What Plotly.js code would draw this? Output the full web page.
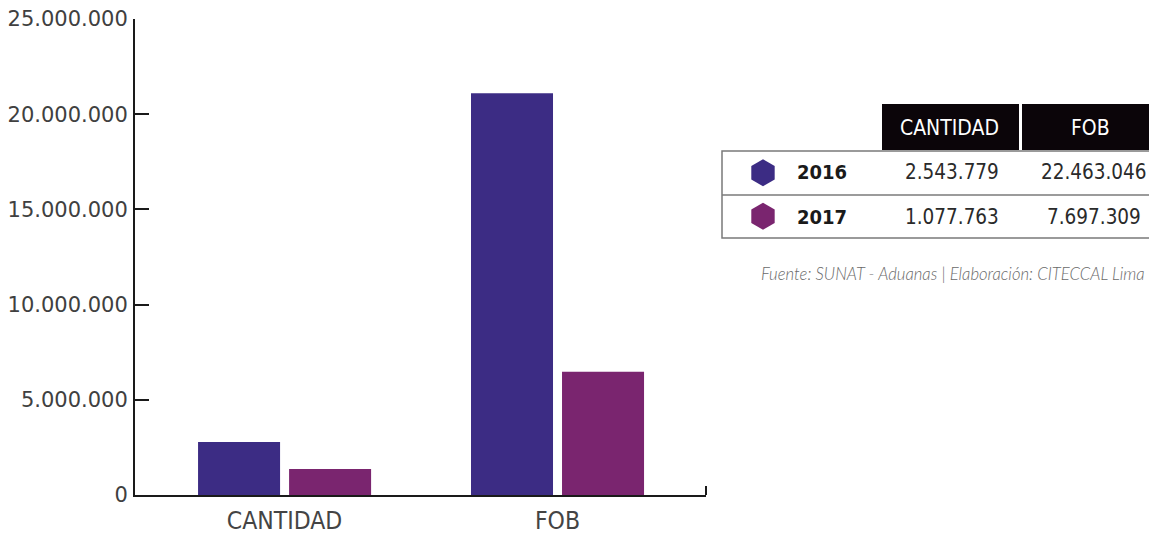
<!DOCTYPE html>
<html>
<head>
<meta charset="utf-8">
<script src="https://cdn.plot.ly/plotly-3.0.1.min.js"></script>
<style>html,body{margin:0;padding:0;background:#fff;}#chart{width:1149px;height:535px;}</style>
</head>
<body>
<div id="chart"></div>
<script>
// ---- data ----
const categories = ['CANTIDAD', 'FOB'];
const years = ['2016', '2017'];
const values2016 = [2790000, 21100000];
const values2017 = [1370000, 6470000];
const tableHeader = ['CANTIDAD', 'FOB'];
const tableCantidad = ['2.543.779', '1.077.763'];
const tableFob = ['22.463.046', '7.697.309'];
const sourceText = 'Fuente: SUNAT - Aduanas | Elaboración: CITECCAL Lima';

// ---- styling ----
const W = 1149, H = 535;
const colors = ['#3c2c84', '#7a256f'];
const px = x => x / W;            // pixel -> paper x
const py = y => (H - y) / H;      // pixel -> paper y
const condensed = '"DejaVu Sans Condensed", "Liberation Sans Narrow", "DejaVu Sans", sans-serif';
const rowY = [172, 217];          // table row centres (px)

const traces = [
  {type: 'bar', x: categories, y: values2016, name: years[0], marker: {color: colors[0]}, xaxis: 'x', yaxis: 'y', hoverinfo: 'none'},
  {type: 'bar', x: categories, y: values2017, name: years[1], marker: {color: colors[1]}, xaxis: 'x', yaxis: 'y', hoverinfo: 'none'},
  // hexagon legend markers inside the table
  {type: 'scatter', mode: 'markers', x: [0.096], y: [years[0]], xaxis: 'x2', yaxis: 'y2',
   marker: {symbol: 'hexagon', size: 27, color: colors[0]}, hoverinfo: 'none'},
  {type: 'scatter', mode: 'markers', x: [0.096], y: [years[1]], xaxis: 'x2', yaxis: 'y2',
   marker: {symbol: 'hexagon', size: 27, color: colors[1]}, hoverinfo: 'none'}
];

const annotations = [];
// header texts
const headerCenters = [950, 1090];
tableHeader.forEach((t, i) => annotations.push({
  xref: 'paper', yref: 'paper', x: px(headerCenters[i]), y: py(128), text: t, showarrow: false,
  xanchor: 'center', yanchor: 'middle', font: {family: condensed, size: 21, color: '#ffffff'}
}));
// body rows
years.forEach((yr, i) => {
  annotations.push({xref: 'paper', yref: 'paper', x: px(822), y: py(rowY[i]), text: '<b>' + yr + '</b>', showarrow: false,
    xanchor: 'center', yanchor: 'middle', font: {family: condensed, size: 20, color: '#1a1a1a'}});
  annotations.push({xref: 'paper', yref: 'paper', x: px(952), y: py(rowY[i]), text: tableCantidad[i], showarrow: false,
    xanchor: 'center', yanchor: 'middle', font: {family: condensed, size: 20.5, color: '#2a2a2a', weight: 300}});
  annotations.push({xref: 'paper', yref: 'paper', x: px(1094), y: py(rowY[i]), text: tableFob[i], showarrow: false,
    xanchor: 'center', yanchor: 'middle', font: {family: condensed, size: 20.5, color: '#2a2a2a', weight: 300}});
});
// source
annotations.push({xref: 'paper', yref: 'paper', x: px(1147), y: py(274), text: '<i>' + sourceText + '</i>',
  showarrow: false, xanchor: 'right', yanchor: 'middle',
  font: {family: 'Lato, "Open Sans", sans-serif', size: 16.7, color: '#6a6a6a', weight: 300}});

const shapes = [
  // header cells
  {type: 'rect', xref: 'paper', yref: 'paper', x0: px(882), x1: px(1019), y0: py(150), y1: py(104), fillcolor: '#0b0509', line: {width: 0}},
  {type: 'rect', xref: 'paper', yref: 'paper', x0: px(1022), x1: px(1152), y0: py(150), y1: py(104), fillcolor: '#0b0509', line: {width: 0}},
  // body border
  {type: 'rect', xref: 'paper', yref: 'paper', x0: px(722), x1: px(1152), y0: py(238), y1: py(151), line: {color: '#7a7a7a', width: 1.5}},
  {type: 'line', xref: 'paper', yref: 'paper', x0: px(722), x1: px(1152), y0: py(195), y1: py(195), line: {color: '#7a7a7a', width: 1.5}},
  // x axis end tick
  {type: 'line', xref: 'paper', yref: 'paper', x0: px(706), x1: px(706), y0: py(495), y1: py(486), line: {color: '#1a1a1a', width: 2}}
];

const layout = {
  width: W, height: H,
  margin: {l: 0, r: 0, t: 0, b: 0, pad: 0},
  paper_bgcolor: '#ffffff', plot_bgcolor: '#ffffff',
  separators: ',.',
  showlegend: false,
  barmode: 'group', bargap: 0.333, bargroupgap: 0.099,
  xaxis: {
    domain: [px(135), px(706)], range: [-0.548, 1.544], type: 'category',
    showline: true, linecolor: '#1a1a1a', linewidth: 2, ticks: '', showgrid: false, zeroline: false,
    tickfont: {family: condensed, size: 24.5, color: '#444444'}, ticklabelstandoff: 3
  },
  yaxis: {
    domain: [py(495), py(19)], range: [0, 25000000], dtick: 5000000, tickformat: ',d',
    showline: true, linecolor: '#1a1a1a', linewidth: 2, ticks: 'inside', ticklen: 14, tickwidth: 2, tickcolor: '#1a1a1a',
    showgrid: false, zeroline: false,
    tickfont: {family: '"DejaVu Sans", sans-serif', size: 21, color: '#404040'}, ticklabelstandoff: 1
  },
  xaxis2: {domain: [px(722), 1], range: [0, 1], visible: false, fixedrange: true, anchor: 'y2'},
  yaxis2: {domain: [py(238), py(151)], type: 'category', categoryarray: [years[1], years[0]], categoryorder: 'array',
    range: [-0.5, 1.5], visible: false, fixedrange: true, anchor: 'x2'},
  annotations: annotations,
  shapes: shapes
};

Plotly.newPlot('chart', traces, layout, {displayModeBar: false, staticPlot: true});
</script>
</body>
</html>
